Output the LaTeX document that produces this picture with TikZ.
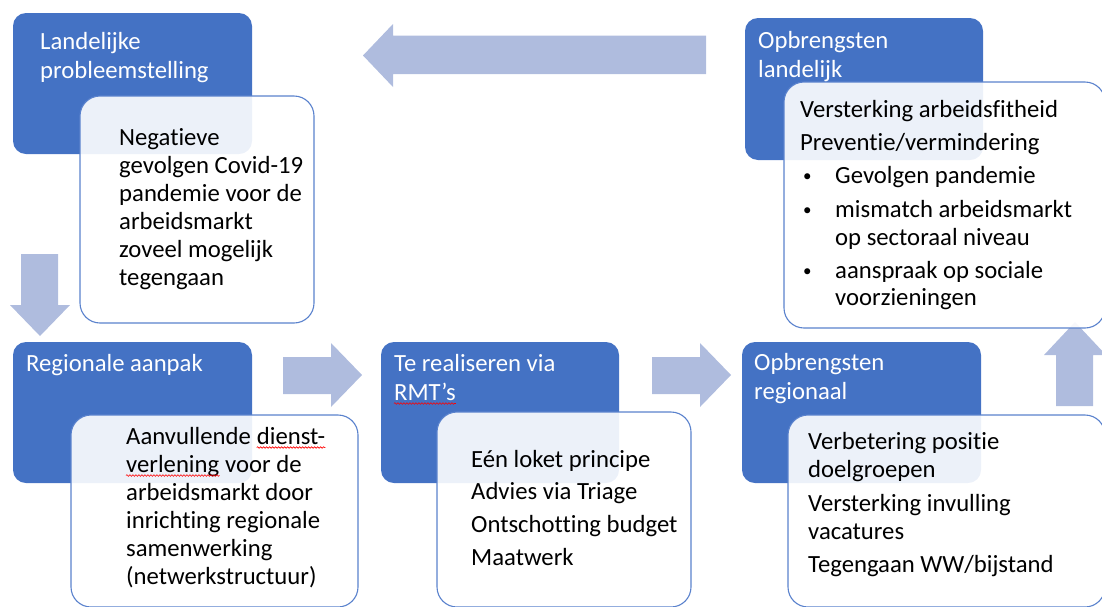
\documentclass[tikz,border=0pt]{standalone}
\usepackage{fontspec}
\setmainfont{Carlito}[Ligatures=NoCommon]
\usetikzlibrary{calc,decorations.pathmorphing}
\definecolor{hdrblue}{RGB}{68,114,196}
\definecolor{arrowblue}{RGB}{175,188,222}
\definecolor{edgeblue}{RGB}{90,130,205}
\begin{document}
\begin{tikzpicture}[x=1pt,y=-1pt,
  hdrbox/.style={fill=hdrblue, rounded corners=13pt},
  bodybox/.style={fill=white, fill opacity=0.9, draw=edgeblue, line width=1.1pt, rounded corners=20pt},
  fatarrow/.style={fill=arrowblue},
  hdrtxt/.style={anchor=base west, inner sep=0pt, text=white, font=\fontsize{24.7}{29}\selectfont},
  bodytxt/.style={anchor=base west, inner sep=0pt, text=black, font=\fontsize{24.7}{29}\selectfont},
  bullettxt/.style={anchor=base west, inner sep=0pt, text=black, font=\fontsize{17}{20}\selectfont},
  squiggle/.style={draw=red, line width=0.6pt, decorate, decoration={snake, amplitude=0.8pt, segment length=3pt}}
]
\useasboundingbox (0,0) rectangle (1102,606);
% arrows
\fill[fatarrow] (706,35.5) -- (393,35.5) -- (393,24) -- (363,55.5) -- (393,87) -- (393,74) -- (706,74) -- cycle;
\fill[fatarrow] (21,254) -- (58,254) -- (58,305) -- (70,305) -- (40,336) -- (10,305) -- (21,305) -- cycle;
\fill[fatarrow] (283,357) -- (331,357) -- (331,343) -- (362,375) -- (331,407) -- (331,394) -- (283,394) -- cycle;
\fill[fatarrow] (652,357) -- (700,357) -- (700,343) -- (731,375) -- (700,407) -- (700,394) -- (652,394) -- cycle;
\fill[fatarrow] (1056,406) -- (1056,355) -- (1044,355) -- (1075,322) -- (1106,355) -- (1093,355) -- (1093,406) -- cycle;
% header boxes
\fill[hdrbox] (13,13) rectangle (252,154);
\fill[hdrbox] (13,342) rectangle (252,483);
\fill[hdrbox] (381,342) rectangle (619,483);
\fill[hdrbox] (742,342) rectangle (981,483);
\fill[hdrbox] (745,18) rectangle (983,160);
% body boxes
\path[bodybox] (80,96) rectangle (314,323);
\path[bodybox] (71,415) rectangle (358,607);
\path[bodybox] (437,412) rectangle (691,607);
\path[bodybox] (788,415) rectangle (1105,607);
\path[bodybox] (784,82) rectangle (1105,328);
% header texts
\node[hdrtxt] (h1a) at (40,49) {Landelijke};
\node[hdrtxt] (h1b) at (40,78) {probleemstelling};
\node[hdrtxt] (h2a) at (26,371) {Regionale aanpak};
\node[hdrtxt] (h3a) at (394,371) {Te realiseren via};
\node[hdrtxt] (h3b) at (394,400) {RMT’s};
\node[hdrtxt] (h4a) at (754,370) {Opbrengsten};
\node[hdrtxt] (h4b) at (754,399) {regionaal};
\node[hdrtxt] (h5a) at (758,48) {Opbrengsten};
\node[hdrtxt] (h5b) at (758,77) {landelijk};
% body 1
\node[bodytxt] (b1a) at (119,145) {Negatieve};
\node[bodytxt] (b1b) at (119,173) {gevolgen Covid-19};
\node[bodytxt] (b1c) at (119,201) {pandemie voor de};
\node[bodytxt] (b1d) at (119,229) {arbeidsmarkt};
\node[bodytxt] (b1e) at (119,257) {zoveel mogelijk};
\node[bodytxt] (b1f) at (119,285) {tegengaan};
% body 2
\node[bodytxt] (b2a) at (126,444) {Aanvullende\ \mbox{}};
\node[bodytxt] (b2a2) at (b2a.base east) {dienst-};
\node[bodytxt] (b2b) at (126,472) {verlening};
\node[bodytxt] (b2b2) at (b2b.base east) {\ voor de};
\node[bodytxt] (b2c) at (126,500) {arbeidsmarkt door};
\node[bodytxt] (b2d) at (126,528) {inrichting regionale};
\node[bodytxt] (b2e) at (126,556) {samenwerking};
\node[bodytxt] (b2f) at (126,584) {(netwerkstructuur)};
% body 3
\node[bodytxt] (b3a) at (471,467) {Eén loket principe};
\node[bodytxt] (b3b) at (471,499) {Advies via Triage};
\node[bodytxt] (b3c) at (471,532) {Ontschotting budget};
\node[bodytxt] (b3d) at (471,565) {Maatwerk};
% body 4
\node[bodytxt] (b4a) at (808,449) {Verbetering positie};
\node[bodytxt] (b4b) at (808,477) {doelgroepen};
\node[bodytxt] (b4c) at (808,511) {Versterking invulling};
\node[bodytxt] (b4d) at (808,539) {vacatures};
\node[bodytxt] (b4e) at (808,572) {Tegengaan WW/bijstand};
% body 5
\node[bodytxt] (b5a) at (800,117) {Versterking arbeidsfitheid};
\node[bodytxt] (b5b) at (800,150) {Preventie/vermindering};
\node[bullettxt] (k1) at (803,181) {•};
\node[bodytxt] (b5c) at (835,183) {Gevolgen pandemie};
\node[bullettxt] (k2) at (803,215) {•};
\node[bodytxt] (b5d) at (835,217) {mismatch arbeidsmarkt};
\node[bodytxt] (b5e) at (835,245) {op sectoraal niveau};
\node[bullettxt] (k3) at (803,276) {•};
\node[bodytxt] (b5f) at (835,278) {aanspraak op sociale};
\node[bodytxt] (b5g) at (835,305) {voorzieningen};
% spell-check squiggles
\draw[squiggle] ($(b2a2.base west)+(0pt,-3.5pt)$) -- ($(b2a2.base east)+(0pt,-3.5pt)$);
\draw[squiggle] ($(b2b.base west)+(0pt,-3.5pt)$) -- ($(b2b.base east)+(0pt,-3.5pt)$);
\draw[squiggle] ($(h3b.base west)+(0pt,-3.5pt)$) -- ($(h3b.base east)+(0pt,-3.5pt)$);
\end{tikzpicture}
\end{document}
